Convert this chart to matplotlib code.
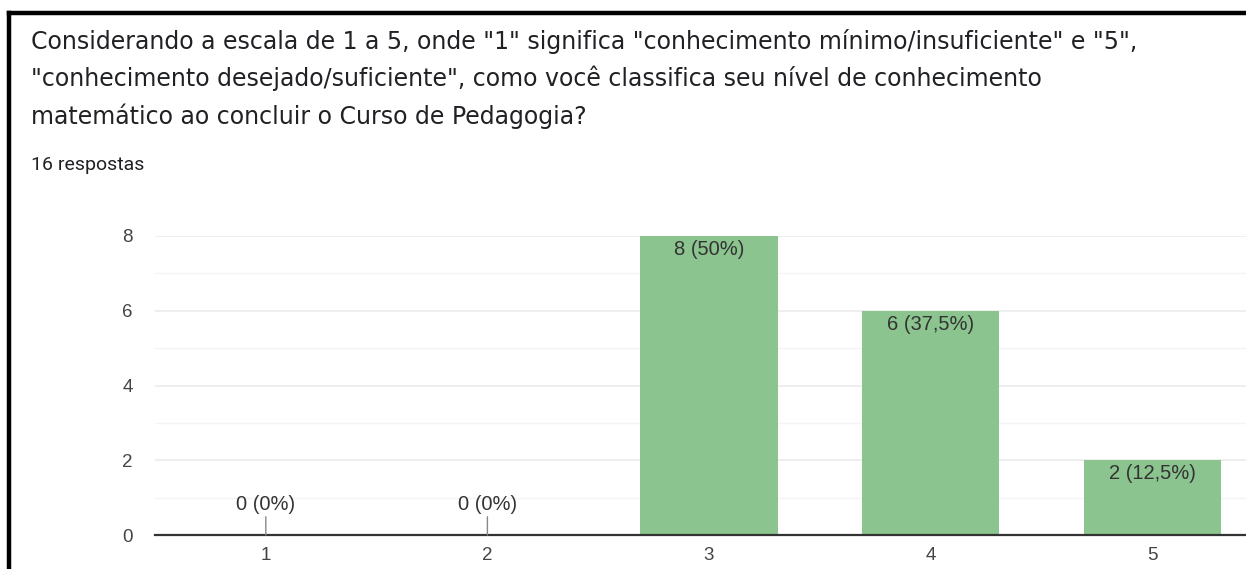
import matplotlib
matplotlib.use('Agg')
import matplotlib.pyplot as plt
from matplotlib.lines import Line2D

# Survey data (16 responses)
categories = ['1', '2', '3', '4', '5']
counts = [0, 0, 8, 6, 2]
percent_labels = ['0 (0%)', '0 (0%)', '8 (50%)', '6 (37,5%)', '2 (12,5%)']

title_lines = [
    'Considerando a escala de 1 a 5, onde "1" significa "conhecimento mínimo/insuficiente" e "5",',
    '"conhecimento desejado/suficiente", como você classifica seu nível de conhecimento',
    'matemático ao concluir o Curso de Pedagogia?',
]
subtitle = '16 respostas'

W, H = 1246, 569
fig = plt.figure(figsize=(W / 100, H / 100), dpi=100)

# frame lines (top + left) as in the screenshot
fig.add_artist(Line2D([9 / W, 1.0], [1 - 13 / H, 1 - 13 / H], color='black', linewidth=3.2))
fig.add_artist(Line2D([9 / W, 9 / W], [0, 1 - 13 / H], color='black', linewidth=3.2))

# question text
for i, line in enumerate(title_lines):
    fig.text(31 / W, 1 - (41 + i * 37.5) / H, line, fontsize=17, family='DejaVu Sans',
             color='#202124', va='center', ha='left')
fig.text(31 / W, 1 - 165 / H, subtitle, fontsize=14, family='Roboto',
         color='#202124', va='center', ha='left')

# plot area
left, right = 155, 1263
bottom, top = 535, 236
ax = fig.add_axes([left / W, 1 - bottom / H, (right - left) / W, (bottom - top) / H])

x = list(range(1, len(categories) + 1))
ax.bar(x, counts, width=0.62, color='#8bc48f', zorder=2)

ax.set_xlim(0.5, 5.5)
ax.set_ylim(0, 8)
ax.set_xticks(x)
ax.set_xticklabels(categories)
ax.set_yticks([0, 2, 4, 6, 8])
ax.set_yticks([1, 3, 5, 7], minor=True)
ax.grid(axis='y', which='major', color='#ebebeb', linewidth=1.2, zorder=0)
ax.grid(axis='y', which='minor', color='#f4f4f4', linewidth=1.0, zorder=0)
ax.tick_params(axis='both', which='both', length=0, labelsize=13.5, labelcolor='#444444',
               labelfontfamily='Liberation Sans')
ax.tick_params(axis='x', pad=9)
ax.tick_params(axis='y', pad=16)

for s in ['top', 'right', 'left']:
    ax.spines[s].set_visible(False)
ax.spines['bottom'].set_color('#333333')
ax.spines['bottom'].set_linewidth(1.6)
ax.spines['bottom'].set_zorder(3)

# value labels
for xi, c, lab in zip(x, counts, percent_labels):
    if c > 0:
        ax.annotate(lab, (xi, c), xytext=(0, -4), textcoords='offset pixels',
                    ha='center', va='top', fontsize=14.5, color='#333333',
                    family='Liberation Sans', zorder=4)
    else:
        ax.annotate(lab, (xi, c), xytext=(0, 21), textcoords='offset pixels',
                    ha='center', va='bottom', fontsize=14.5, color='#333333',
                    family='Liberation Sans', zorder=4,
                    arrowprops=dict(arrowstyle='-', color='#888888', linewidth=1,
                                    shrinkA=0, shrinkB=0))

fig.savefig('out.png', dpi=100)
